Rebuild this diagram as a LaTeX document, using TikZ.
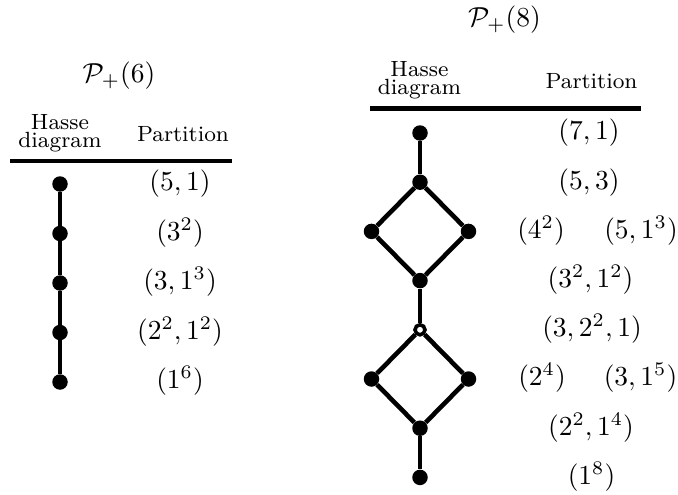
\documentclass[tikz,border=0pt]{standalone}
\begin{document}
\begin{tikzpicture}[x=1pt,y=-1pt,
  dot/.style={circle,fill=black,inner sep=0pt,minimum size=15.5pt},
  hollowdot/.style={circle,draw=black,fill=white,line width=3.6pt,inner sep=0pt,minimum size=10pt},
  edge/.style={line width=4.6pt},
  hrule/.style={line width=4.6pt},
  lbl/.style={anchor=base,scale=2.75,inner sep=0pt},
  hdr/.style={anchor=base,scale=2.75,inner sep=0pt,font=\footnotesize},
  ttl/.style={anchor=base,scale=2.75,inner sep=0pt}]
\useasboundingbox (0,0) rectangle (678,495);
% ---------- left: P+(6)
\node[ttl] (t6) at (119,82.5) {$\mathcal{P}_+(6)$};
\node[hdr] (h6a) at (60,129.6) {Hasse};
\node[hdr] (h6b) at (60,147.6) {diagram};
\node[hdr] (p6) at (183,141) {Partition};
\coordinate (r6a) at (10,161);
\coordinate (r6b) at (232,161);
\draw[hrule] (r6a) -- (r6b);
\node[dot] (a1) at (60,184) {};
\node[dot] (a2) at (60,233.5) {};
\node[dot] (a3) at (60,283) {};
\node[dot] (a4) at (60,332.5) {};
\node[dot] (a5) at (60,382) {};
\draw[edge] (a1) -- (a2) -- (a3) -- (a4) -- (a5);
\node[lbl] (la1) at (180,190.9) {$(5,1)$};
\node[lbl] (la2) at (180,240.4) {$(3^2)$};
\node[lbl] (la3) at (180,289.9) {$(3,1^3)$};
\node[lbl] (la4) at (180,339.4) {$(2^2,1^2)$};
\node[lbl] (la5) at (180,388.9) {$(1^6)$};
% ---------- right: P+(8)
\node[ttl] (t8) at (504.5,26.4) {$\mathcal{P}_+(8)$};
\node[hdr] (h8a) at (419.5,76.9) {Hasse};
\node[hdr] (h8b) at (419.5,94.9) {diagram};
\node[hdr] (p8) at (591.5,88.3) {Partition};
\coordinate (r8a) at (370,108.3);
\coordinate (r8b) at (641,108.3);
\draw[hrule] (r8a) -- (r8b);
\node[dot] (b1) at (420,133) {};
\node[dot] (b2) at (420,182.2) {};
\node[dot] (b3l) at (371.5,231.4) {};
\node[dot] (b3r) at (468.5,231.4) {};
\node[dot] (b4) at (420,280.6) {};
\node[hollowdot] (b5) at (420,329.8) {};
\node[dot] (b6l) at (371.5,379) {};
\node[dot] (b6r) at (468.5,379) {};
\node[dot] (b7) at (420,428.2) {};
\node[dot] (b8) at (420,477.4) {};
\draw[edge] (b1) -- (b2);
\draw[edge] (b2) -- (b3l) -- (b4) -- (b3r) -- (b2);
\draw[edge] (b4) -- (b5);
\draw[edge] (b5) -- (b6l) -- (b7) -- (b6r) -- (b5);
\draw[edge] (b7) -- (b8);
\node[lbl] (lb1) at (589,139.9) {$(7,1)$};
\node[lbl] (lb2) at (589,189.1) {$(5,3)$};
\node[lbl] (lb3a) at (541,238.3) {$(4^2)$};
\node[lbl] (lb3b) at (641,238.3) {$(5,1^3)$};
\node[lbl] (lb4) at (590.5,287.5) {$(3^2,1^2)$};
\node[lbl] (lb5) at (592,336.7) {$(3,2^2,1)$};
\node[lbl] (lb6a) at (542,385.9) {$(2^4)$};
\node[lbl] (lb6b) at (640.5,385.9) {$(3,1^5)$};
\node[lbl] (lb7) at (591,435.1) {$(2^2,1^4)$};
\node[lbl] (lb8) at (591.5,484.3) {$(1^8)$};
\end{tikzpicture}
\end{document}
